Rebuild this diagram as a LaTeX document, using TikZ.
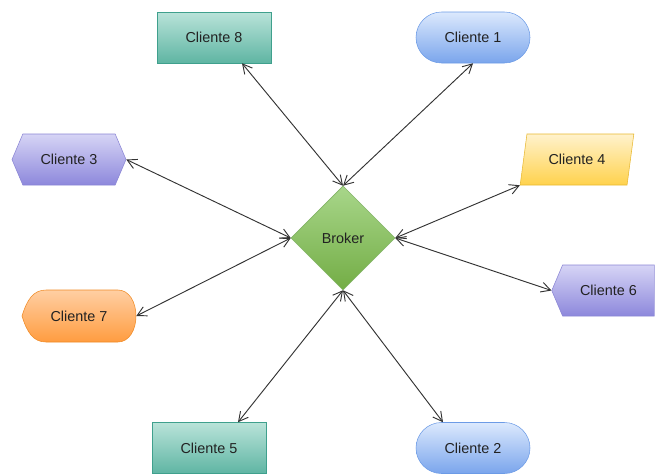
\documentclass[tikz,border=0pt]{standalone}
\usepackage{fontspec}
\setmainfont{Liberation Sans}
\usepackage{xcolor}
\usepackage{tikz}
\usetikzlibrary{arrows.meta,positioning,calc,shapes.geometric,shapes.misc,shapes.symbols}

\definecolor{tealtop}{HTML}{B9E3D9}\definecolor{tealbot}{HTML}{5FB5A3}\definecolor{tealline}{HTML}{3FA08D}
\definecolor{bluetop}{HTML}{DCE9FD}\definecolor{bluebot}{HTML}{7AA5EC}\definecolor{blueline}{HTML}{6C9BE6}
\definecolor{purptop}{HTML}{D6D4F5}\definecolor{purpbot}{HTML}{8D88DC}\definecolor{purpline}{HTML}{8A85D4}
\definecolor{yeltop}{HTML}{FFF2CC}\definecolor{yelbot}{HTML}{FFD24D}\definecolor{yelline}{HTML}{E8B830}
\definecolor{orgtop}{HTML}{FFCFA3}\definecolor{orgbot}{HTML}{FF9C40}\definecolor{orgline}{HTML}{F08A24}
\definecolor{grntop}{HTML}{A8D68A}\definecolor{grnbot}{HTML}{73AD45}\definecolor{grnline}{HTML}{82B366}
\definecolor{txt}{HTML}{222222}
\definecolor{link}{HTML}{333333}

\begin{document}
\begin{tikzpicture}[x=0.75pt, y=-0.75pt,
  >={Straight Barb[length=7pt,width=7.5pt]},
  client/.style={minimum width=85.5pt, minimum height=38.25pt, inner sep=0pt, align=center,
    text=txt, font=\fontsize{10.8}{13}\selectfont},
  tealbox/.style={client, draw=tealline, top color=tealtop, bottom color=tealbot},
  pill/.style={client, rounded rectangle, draw=blueline, top color=bluetop, bottom color=bluebot},
  hexa/.style={client, signal, signal to=west and east, signal pointer angle=134,
    draw=purpline, top color=purptop, bottom color=purpbot},
  slant/.style={client, trapezium, trapezium left angle=70, trapezium right angle=110,
    trapezium stretches=true, draw=yelline, top color=yeltop, bottom color=yelbot},
  link/.style={<->, draw=link, line width=0.7pt}]
  \useasboundingbox (0,0) rectangle (655,475);

  % broker in the middle
  \node[diamond, minimum width=78pt, minimum height=78pt, inner sep=0pt, draw=grnline,
    top color=grntop, bottom color=grnbot, text=txt, font=\fontsize{10.8}{13}\selectfont]
    (br) at (343,238) {Broker};

  % clients
  \node[tealbox] (c8) at (214,37.5) {Cliente 8};
  \node[pill] (c1) at (473,37.5) {Cliente 1};
  \node[hexa] (c3) at (69,159.5) {Cliente 3};
  \node[slant] (c4) at (577,159.5) {Cliente 4};
  \node[client, signal, signal to=west, signal pointer angle=134, minimum width=77pt,
    draw=purpline, top color=purptop, bottom color=purpbot] (c6) at (608.5,290.5) {Cliente 6};
  \path[draw=orgline, top color=orgtop, bottom color=orgbot]
    (22,316) .. controls (27,300) and (33,290) .. (46,290) -- (118,290)
    .. controls (129,290) and (136,302) .. (136,316) .. controls (136,330) and (129,342) .. (118,342)
    -- (46,342) .. controls (33,342) and (27,332) .. (22,316) -- cycle;
  \node[client] (c7) at (79,316) {Cliente 7};
  \node[tealbox] (c5) at (209,448) {Cliente 5};
  \node[pill] (c2) at (473,448) {Cliente 2};

  % links
  \draw[link] (br.north) -- ($(c8.south)+(28,0)$);
  \draw[link] (br.north) -- (c1.south);
  \draw[link] (br.west) -- (c3.east);
  \draw[link] (br.west) -- (c7.east);
  \draw[link] (br.east) -- (c4.bottom left corner);
  \draw[link] (br.east) -- (c6.west);
  \draw[link] (br.south) -- ($(c5.north)+(29,0)$);
  \draw[link] (br.south) -- ($(c2.north)+(-30,0)$);
\end{tikzpicture}
\end{document}
